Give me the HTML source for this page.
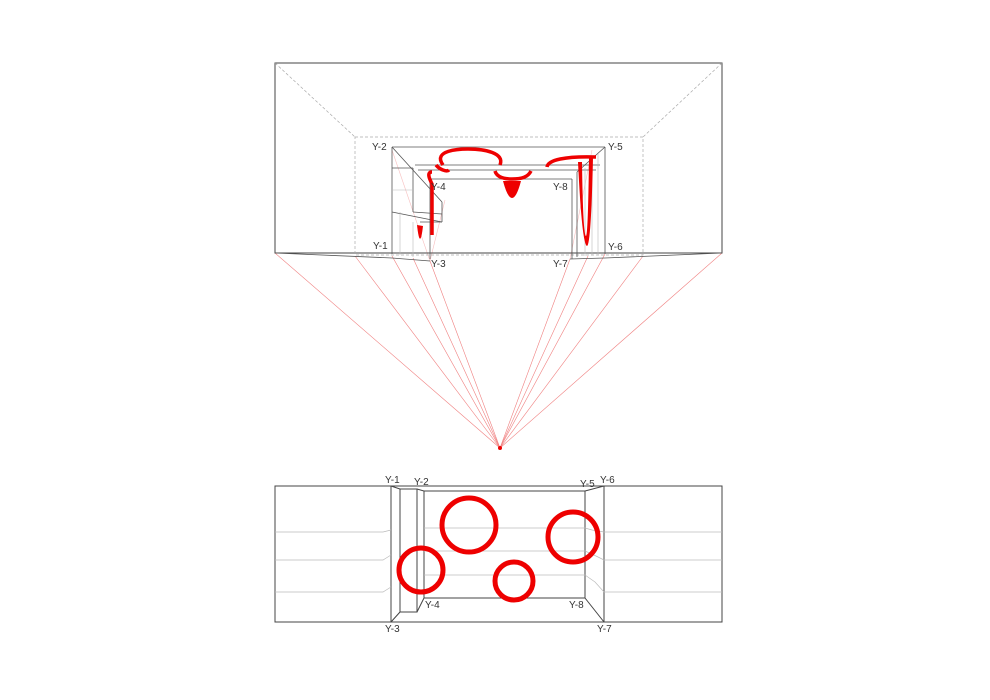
<!DOCTYPE html>
<html><head><meta charset="utf-8"><style>
html,body{margin:0;padding:0;background:#fff;}
svg{display:block;}
text{font-family:"Liberation Sans",sans-serif;font-size:10px;fill:#333;}
</style></head><body>
<svg width="990" height="700" viewBox="0 0 990 700" xmlns="http://www.w3.org/2000/svg">
<g stroke="#f08080" stroke-width="0.6" fill="none">
<line x1="500" y1="448" x2="275" y2="253"/>
<line x1="500" y1="448" x2="355" y2="256"/>
<line x1="500" y1="448" x2="392" y2="256"/>
<line x1="500" y1="448" x2="413" y2="258"/>
<line x1="500" y1="448" x2="430" y2="261"/>
<line x1="500" y1="448" x2="570" y2="259"/>
<line x1="500" y1="448" x2="588" y2="256"/>
<line x1="500" y1="448" x2="605" y2="254"/>
<line x1="500" y1="448" x2="643" y2="256"/>
<line x1="500" y1="448" x2="722" y2="253"/>
<line x1="430" y1="261" x2="392" y2="150" opacity="0.5"/>
<line x1="430" y1="261" x2="445" y2="200" opacity="0.5"/>
<line x1="570" y1="259" x2="592" y2="150" opacity="0.5"/>
</g>
<circle cx="500" cy="448" r="2" fill="#e00"/>
<g fill="none" stroke="#444" stroke-width="1">
<rect x="275" y="63" width="447" height="190"/>
</g>
<g fill="none" stroke="#aaa" stroke-width="0.7" stroke-dasharray="3,2">
<rect x="355" y="137" width="288" height="118"/>
<line x1="275" y1="63" x2="355" y2="137"/>
<line x1="722" y1="63" x2="643" y2="137"/>
</g>
<g fill="none" stroke="#555" stroke-width="0.8">
<polyline points="275,253 392,258 430,261"/>
<polyline points="722,253 605,258 570,259"/>
<line x1="392" y1="147" x2="605" y2="147"/>
<line x1="415" y1="165" x2="600" y2="165"/>
<line x1="418" y1="170" x2="596" y2="170"/>
<line x1="430" y1="179" x2="572" y2="179"/>
<line x1="392" y1="147" x2="392" y2="254"/>
<line x1="392" y1="147" x2="442" y2="202"/>
<line x1="430" y1="179" x2="430" y2="259"/>
<line x1="392" y1="168" x2="413" y2="168"/>
<line x1="413" y1="168" x2="413" y2="212"/>
<line x1="392" y1="212" x2="442" y2="222"/>
<line x1="413" y1="212" x2="442" y2="214"/>
<line x1="442" y1="202" x2="442" y2="222"/>
<line x1="420" y1="222" x2="442" y2="222"/>
<line x1="605" y1="147" x2="605" y2="254"/>
<line x1="605" y1="147" x2="577" y2="172"/>
<line x1="572" y1="179" x2="572" y2="259"/>
<line x1="577" y1="172" x2="577" y2="257"/>
</g>
<g stroke="#bbb" stroke-width="0.6">
<line x1="392" y1="190" x2="413" y2="190"/>
<line x1="400" y1="212" x2="400" y2="255"/>
<line x1="413" y1="222" x2="413" y2="257"/>
<line x1="585" y1="168" x2="585" y2="256"/>
<line x1="592" y1="160" x2="592" y2="255"/>
<line x1="598" y1="154" x2="598" y2="255"/>
</g>
<g fill="none" stroke="#e00" stroke-width="3.5">
<path d="M443,165 C432,150 460,149 468,149 C485,149 505,153 500,165"/>
<path d="M436,165 C440,170 447,172 449,170"/>
<path d="M547,167 C548,160 565,156 596,157"/>
<path d="M432,172 C426,172 430,180 432,184 L432,235"/>
<path d="M495,171 C497,178 505,179 512,179 C522,179 528,177 531,171"/>
</g>
<path d="M503,181 Q512,215 521,181 Z" fill="#e00"/>
<path d="M578,162 Q582,245 587,246 Q591,245 593,158 L589,158 Q588,235 586,236 Q583,236 582,162 Z" fill="#e00"/>
<path d="M417,225 Q420,252 423,226 Z" fill="#e00"/>
<text x="372" y="150">Y-2</text>
<text x="608" y="150">Y-5</text>
<text x="431" y="190">Y-4</text>
<text x="553" y="190">Y-8</text>
<text x="373" y="249">Y-1</text>
<text x="608" y="250">Y-6</text>
<text x="431" y="267">Y-3</text>
<text x="553" y="267">Y-7</text>
<g fill="none" stroke="#444" stroke-width="1">
<rect x="275" y="486" width="447" height="136"/>
<line x1="391" y1="486" x2="391" y2="622"/>
<line x1="604" y1="486" x2="604" y2="622"/>
<polyline points="391,486 400,489 400,612 391,622"/>
<rect x="400" y="489" width="17" height="123"/>
<polyline points="417,489 424,491 424,598 417,612"/>
<rect x="424" y="491" width="161" height="107"/>
<polyline points="585,491 604,486"/>
<polyline points="585,598 604,622"/>
</g>
<g stroke="#bbb" stroke-width="0.7" fill="none">
<polyline points="275,532 383,532 391,530"/>
<polyline points="275,560 383,560 391,555"/>
<polyline points="275,592 383,592 391,587"/>
<line x1="424" y1="528" x2="585" y2="528"/>
<line x1="424" y1="551" x2="585" y2="551"/>
<line x1="424" y1="575" x2="585" y2="575"/>
<polyline points="585,528 592,530 604,532"/>
<polyline points="585,551 596,556 604,560"/>
<polyline points="585,575 595,582 604,592"/>
<line x1="604" y1="532" x2="722" y2="532"/>
<line x1="604" y1="560" x2="722" y2="560"/>
<line x1="604" y1="592" x2="722" y2="592"/>
</g>
<g fill="none" stroke="#e00" stroke-width="5">
<circle cx="469" cy="525" r="27"/>
<circle cx="421" cy="570" r="22"/>
<circle cx="514" cy="581" r="19"/>
<circle cx="573" cy="537" r="25"/>
</g>
<text x="385" y="483">Y-1</text>
<text x="414" y="485">Y-2</text>
<text x="580" y="487">Y-5</text>
<text x="600" y="483">Y-6</text>
<text x="425" y="608">Y-4</text>
<text x="569" y="608">Y-8</text>
<text x="385" y="632">Y-3</text>
<text x="597" y="632">Y-7</text>
</svg>
</body></html>
